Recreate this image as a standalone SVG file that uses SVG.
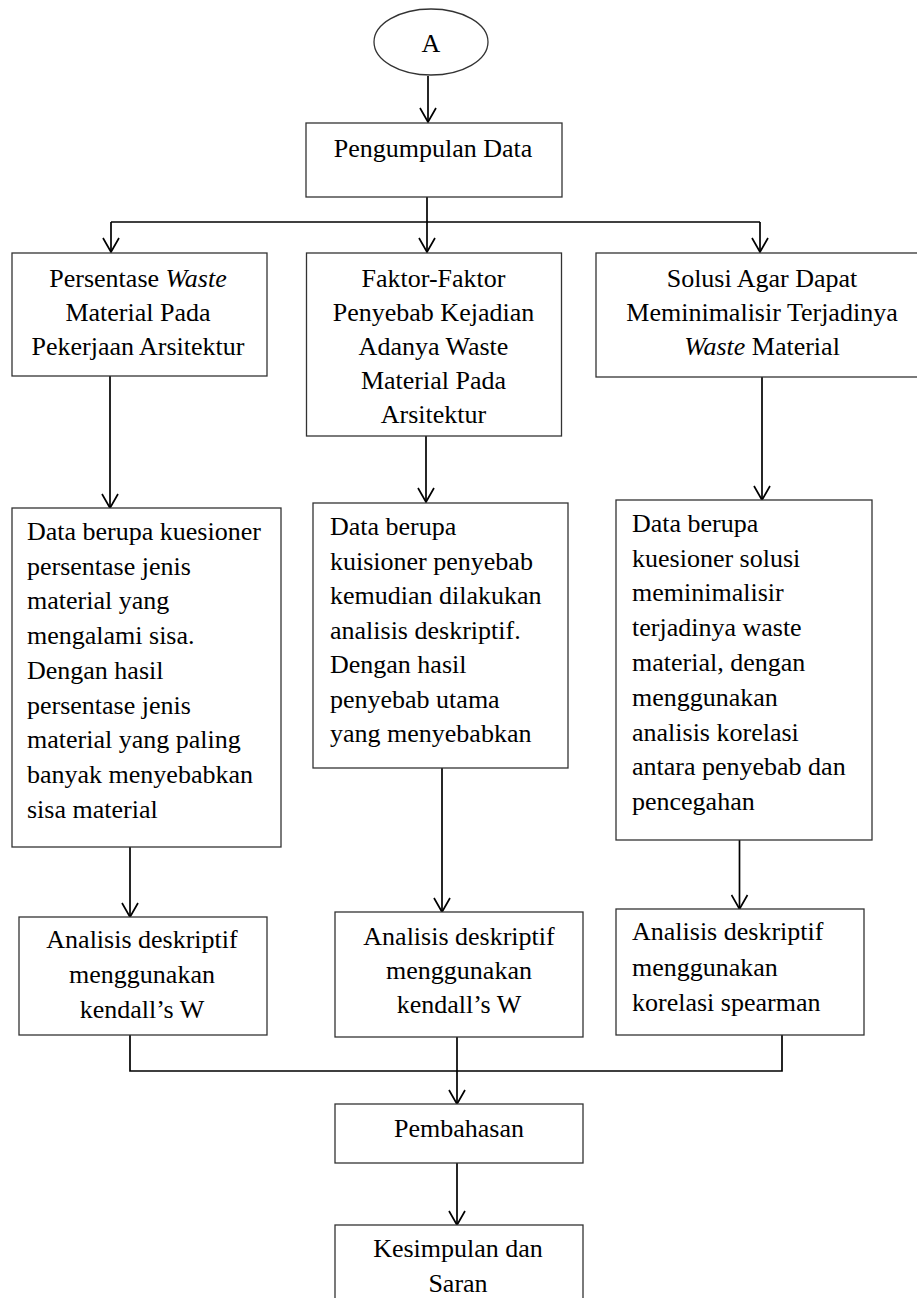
<svg xmlns="http://www.w3.org/2000/svg" width="917" height="1298" viewBox="0 0 917 1298">
<defs>
<style>
text { font-family: "Liberation Serif", "Times New Roman", serif; font-size: 26px; fill: #000; }
.c { text-anchor: middle; }
.box { fill: #fff; stroke: #333; stroke-width: 1.3; }
.con { fill: none; stroke: #000; stroke-width: 1.7; }
.i { font-style: italic; }
</style>
<marker id="arr" markerUnits="userSpaceOnUse" viewBox="-16 -9 18 18" refX="0" refY="0" markerWidth="18" markerHeight="18" orient="auto">
<path d="M-14,-8 L0,0 L-14,8" fill="none" stroke="#000" stroke-width="1.7"/>
</marker>
</defs>
<rect width="917" height="1298" fill="#fff"/>

<g id="connectors">
<line class="con" x1="428" y1="76" x2="428" y2="122" marker-end="url(#arr)"/>
<line class="con" x1="427" y1="197" x2="427" y2="252" marker-end="url(#arr)"/>
<line class="con" x1="111" y1="222" x2="760" y2="222"/>
<line class="con" x1="111" y1="222" x2="111" y2="252" marker-end="url(#arr)"/>
<line class="con" x1="760" y1="222" x2="760" y2="252" marker-end="url(#arr)"/>
<line class="con" x1="110" y1="376" x2="110" y2="508" marker-end="url(#arr)"/>
<line class="con" x1="426" y1="436" x2="426" y2="502" marker-end="url(#arr)"/>
<line class="con" x1="762" y1="377" x2="762" y2="500" marker-end="url(#arr)"/>
<line class="con" x1="130" y1="847" x2="130" y2="917" marker-end="url(#arr)"/>
<line class="con" x1="442" y1="768" x2="442" y2="912" marker-end="url(#arr)"/>
<line class="con" x1="739.5" y1="840" x2="739.5" y2="909" marker-end="url(#arr)"/>
<polyline class="con" points="130,1035 130,1071 782,1071 782,1035"/>
<line class="con" x1="457" y1="1037" x2="457" y2="1104" marker-end="url(#arr)"/>
<line class="con" x1="457" y1="1163" x2="457" y2="1225" marker-end="url(#arr)"/>
</g>

<g id="node-a">
<ellipse cx="431" cy="42" rx="57" ry="33" fill="#fff" stroke="#333" stroke-width="1.3"/>
<text class="c" x="431" y="52">A</text>
</g>

<g id="node-pengumpulan">
<rect class="box" x="306" y="123" width="256" height="74"/>
<text class="c" x="433" y="157">Pengumpulan Data</text>
</g>

<g id="node-persentase">
<rect class="box" x="12" y="253" width="255" height="123"/>
<text class="c" x="138" y="287">Persentase <tspan class="i">Waste</tspan></text>
<text class="c" x="138" y="321">Material Pada</text>
<text class="c" x="138" y="355">Pekerjaan Arsitektur</text>
</g>

<g id="node-faktor">
<rect class="box" x="306.5" y="253" width="255" height="183"/>
<text class="c" x="433.5" y="287">Faktor-Faktor</text>
<text class="c" x="433.5" y="321">Penyebab Kejadian</text>
<text class="c" x="433.5" y="355">Adanya Waste</text>
<text class="c" x="433.5" y="389">Material Pada</text>
<text class="c" x="433.5" y="423">Arsitektur</text>
</g>

<g id="node-solusi">
<rect class="box" x="596" y="253" width="330" height="124"/>
<text class="c" x="762" y="287">Solusi Agar Dapat</text>
<text class="c" x="762" y="321">Meminimalisir Terjadinya</text>
<text class="c" x="762" y="355"><tspan class="i">Waste</tspan> Material</text>
</g>

<g id="node-data-left">
<rect class="box" x="12" y="508" width="269" height="339"/>
<text x="27" y="540">Data berupa kuesioner</text>
<text x="27" y="574.7">persentase jenis</text>
<text x="27" y="609.4">material yang</text>
<text x="27" y="644.1">mengalami sisa.</text>
<text x="27" y="678.8">Dengan hasil</text>
<text x="27" y="713.5">persentase jenis</text>
<text x="27" y="748.2">material yang paling</text>
<text x="27" y="782.9">banyak menyebabkan</text>
<text x="27" y="817.6">sisa material</text>
</g>

<g id="node-data-mid">
<rect class="box" x="313" y="503" width="255" height="265"/>
<text x="330" y="535">Data berupa</text>
<text x="330" y="569.5">kuisioner penyebab</text>
<text x="330" y="604">kemudian dilakukan</text>
<text x="330" y="638.5">analisis deskriptif.</text>
<text x="330" y="673">Dengan hasil</text>
<text x="330" y="707.5">penyebab utama</text>
<text x="330" y="742">yang menyebabkan</text>
</g>

<g id="node-data-right">
<rect class="box" x="616" y="500" width="256" height="340"/>
<text x="632" y="531.7">Data berupa</text>
<text x="632" y="566.5">kuesioner solusi</text>
<text x="632" y="601.3">meminimalisir</text>
<text x="632" y="636.1">terjadinya waste</text>
<text x="632" y="670.9">material, dengan</text>
<text x="632" y="705.7">menggunakan</text>
<text x="632" y="740.5">analisis korelasi</text>
<text x="632" y="775.3">antara penyebab dan</text>
<text x="632" y="810.1">pencegahan</text>
</g>

<g id="node-analisis-left">
<rect class="box" x="19" y="917" width="248" height="118"/>
<text class="c" x="142" y="948">Analisis deskriptif</text>
<text class="c" x="142" y="983">menggunakan</text>
<text class="c" x="142" y="1018">kendall’s W</text>
</g>

<g id="node-analisis-mid">
<rect class="box" x="335" y="912" width="248" height="125"/>
<text class="c" x="459" y="945">Analisis deskriptif</text>
<text class="c" x="459" y="979">menggunakan</text>
<text class="c" x="459" y="1013">kendall’s W</text>
</g>

<g id="node-analisis-right">
<rect class="box" x="616" y="909" width="248" height="126"/>
<text x="632" y="940">Analisis deskriptif</text>
<text x="632" y="976">menggunakan</text>
<text x="632" y="1011">korelasi spearman</text>
</g>

<g id="node-pembahasan">
<rect class="box" x="335" y="1104" width="248" height="59"/>
<text class="c" x="459" y="1137">Pembahasan</text>
</g>

<g id="node-kesimpulan">
<rect class="box" x="335" y="1225" width="248" height="100"/>
<text class="c" x="458" y="1257">Kesimpulan dan</text>
<text class="c" x="458" y="1292">Saran</text>
</g>
</svg>
